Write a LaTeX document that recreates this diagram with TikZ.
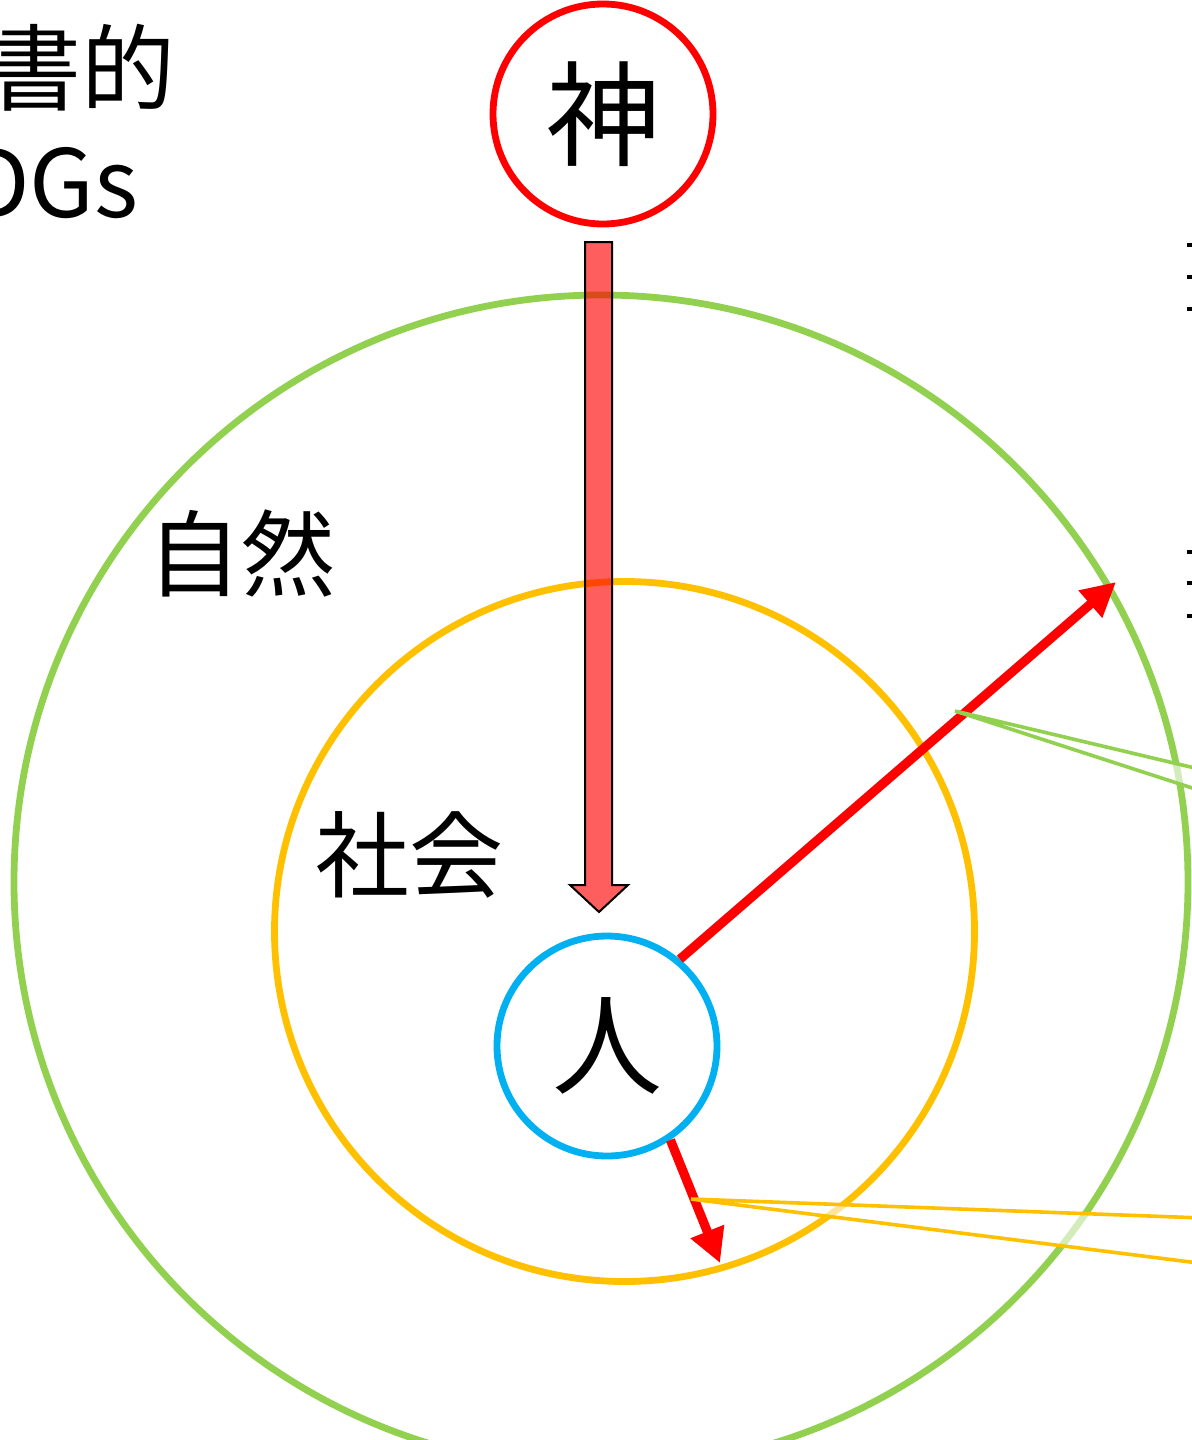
\documentclass[tikz,border=0pt]{standalone}
\usepackage{fontspec}
\setmainfont{Noto Sans CJK JP}
\usetikzlibrary{arrows.meta}
\definecolor{cgreen}{HTML}{92D050}
\definecolor{cyellow}{HTML}{FFC000}
\definecolor{cblue}{HTML}{00B0F0}
\definecolor{cred}{HTML}{FF0000}
\tikzset{
  ring/.style={circle, inner sep=0pt, line width=3.4pt},
  bigtxt/.style={inner sep=0pt, font=\fontsize{47}{52}\selectfont},
  redarrow/.style={cred, line width=4.6pt, -{Triangle[length=17pt,width=17pt]}},
  fragbar/.style={fill=black, draw=none}
}
\begin{document}
\begin{tikzpicture}[x=0.5pt,y=-0.5pt]
\useasboundingbox (0,0) rectangle (1192,1440);
\clip (0,0) rectangle (1192,1440);
% circles (sizes in pt = px/2)
\node[ring, draw=cgreen, minimum size=587pt] (nature) at (601,882) {};
\node[ring, draw=cyellow, minimum size=350pt] (society) at (624.5,931.5) {};
\node[ring, draw=cred, minimum size=110pt] (god) at (603,114) {\fontsize{57}{60}\selectfont 神};
\node[ring, draw=cblue, minimum size=110pt] (person) at (607,1046) {\fontsize{55}{60}\selectfont 人};
% labels
\node[bigtxt] (lnature) at (241,553) {自然};
\node[bigtxt] (lsociety) at (409,855) {社会};
\node[bigtxt, anchor=east] (l1) at (176,68) {聖書的};
\node[bigtxt, anchor=east] (l2) at (139,183) {SDGs};
% block arrow from god to person
\fill[cred, fill opacity=0.63] (585,242) -- (612,242) -- (612,885) -- (628,885) -- (599,912) -- (570,885) -- (585,885) -- cycle;
\draw[black, line width=1pt, line join=miter] (585,242) -- (612,242) -- (612,885) -- (628,885) -- (599,912) -- (570,885) -- (585,885) -- cycle;
% red arrows
\coordinate (t1) at (1116,582);
\coordinate (t2) at (720,1263);
\draw[redarrow] (person.50) -- (t1);
\draw[redarrow] (person.-56) -- (t2);
% callout wedges
\coordinate (g0) at (955,711);
\coordinate (g1) at (1220,774);
\coordinate (g2) at (1220,797);
\fill[white, opacity=0.6] (g1) -- (g0) -- (g2) -- cycle;
\draw[cgreen, line width=1.8pt] (g1) -- (g0) -- (g2);
\coordinate (y0) at (691,1199);
\coordinate (y1) at (1230,1219);
\coordinate (y2) at (1230,1267);
\fill[white, opacity=0.6] (y1) -- (y0) -- (y2) -- cycle;
\draw[cyellow, line width=1.8pt] (y1) -- (y0) -- (y2);
% clipped text fragments at right edge
\foreach \yy in {245,277,309,552,583,616}
  \fill[fragbar] (1187,\yy-2) rectangle (1194,\yy+2);
\end{tikzpicture}
\end{document}
